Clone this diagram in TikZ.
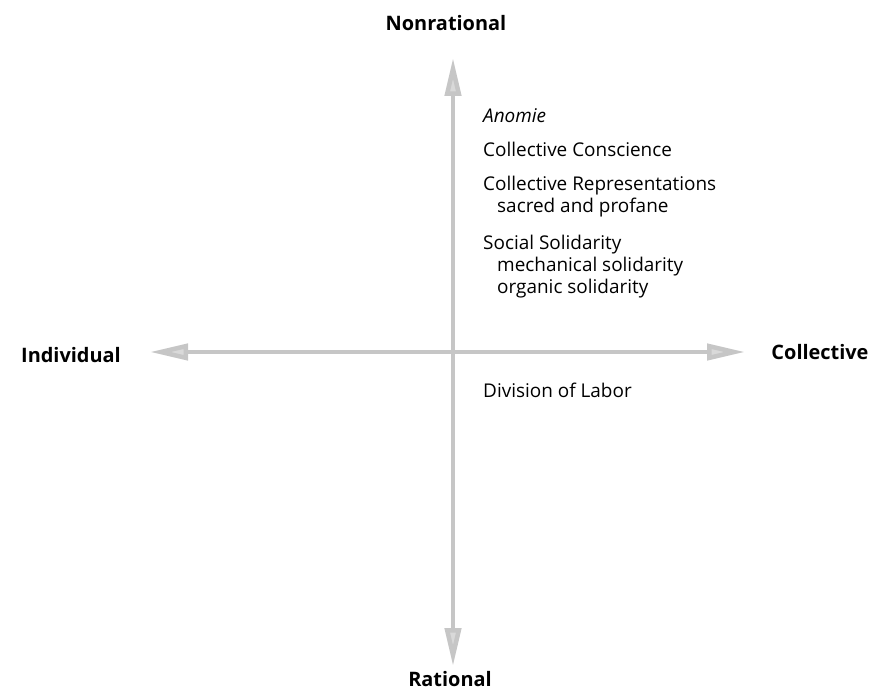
\documentclass[tikz,border=0pt]{standalone}
\usepackage{fontspec}
\setmainfont{Open Sans}
\usetikzlibrary{arrows.meta}
\begin{document}
\begin{tikzpicture}[x=1bp,y=-1bp,
  axis/.style={draw=gray!45,line width=4.5bp,{Triangle[length=38bp,width=16bp,fill=gray!30]}-{Triangle[length=38bp,width=16bp,fill=gray!30]}},
  axlabel/.style={font=\bfseries\fontsize{20}{22}\selectfont,inner sep=0pt},
  item/.style={anchor=west,font=\fontsize{19}{21}\selectfont,inner sep=0pt}]
\useasboundingbox (0,0) rectangle (879,693);
\coordinate (top) at (453,58);
\coordinate (bot) at (453,666);
\coordinate (left) at (150,352);
\coordinate (right) at (745,352);
\draw[axis] (bot) -- (top);
\draw[axis] (left) -- (right);
\node[axlabel] (nonrat) at (446,23) {Nonrational};
\node[axlabel] (rat) at (450,679) {Rational};
\node[axlabel] (ind) at (71,355) {Individual};
\node[axlabel] (col) at (820,352) {Collective};
\node[item] (a) at (483,116) {\itshape Anomie};
\node[item] (b) at (483,149) {Collective Conscience};
\node[item] (c) at (483,186) {Collective Representations};
\node[item] (d) at (497,208) {sacred and profane};
\node[item] (e) at (483,245) {Social Solidarity};
\node[item] (f) at (497,267) {mechanical solidarity};
\node[item] (g) at (497,289) {organic solidarity};
\node[item] (h) at (483,390) {Division of Labor};
\end{tikzpicture}
\end{document}
